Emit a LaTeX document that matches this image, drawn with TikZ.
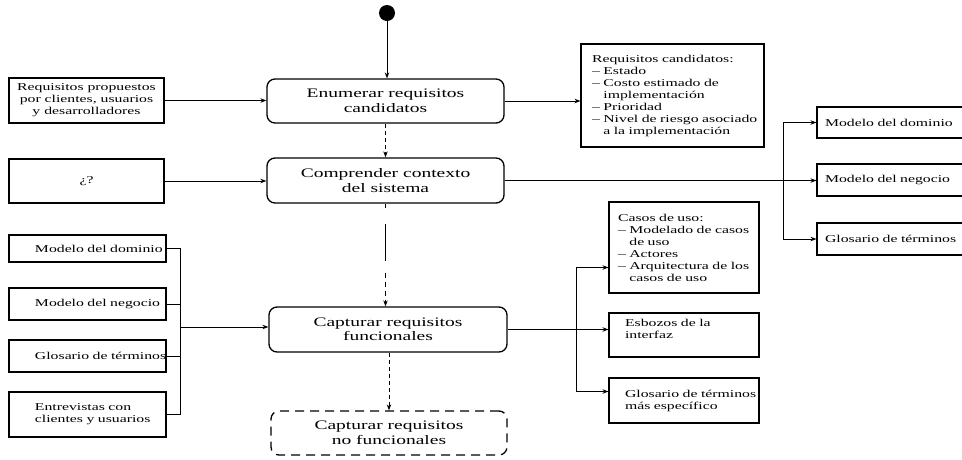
\documentclass[tikz,border=0pt]{standalone}
\usepackage{fontspec}
\setmainfont[FakeStretch=1.5]{Liberation Serif}
\usetikzlibrary{arrows.meta,calc}
\begin{document}
\begin{tikzpicture}[x=1pt,y=-1pt,
  act/.style={draw,rounded corners=8pt,line width=1.3pt,minimum width=237pt,
    minimum height=44pt,align=center,inner sep=0pt,
    font=\fontsize{13}{14.5}\selectfont},
  actdash/.style={act,dash pattern=on 9pt off 6pt},
  art/.style={draw,line width=1.1pt,inner sep=0pt,
    font=\fontsize{10.5}{12}\selectfont},
  flow/.style={line width=0.9pt,-{Stealth[length=6pt,width=4.5pt]}},
  link/.style={line width=0.9pt},
  ctrl/.style={flow,dash pattern=on 4pt off 3pt},
  startdot/.style={circle,fill=black,inner sep=0pt,minimum size=16pt}]
\useasboundingbox (0,0) rectangle (962,459);
\clip (0,0) rectangle (962,459);

% activity flow
\node[startdot] (start) at (387,13) {};
\node[act] (enum) at (385.5,101) {Enumerar requisitos\\candidatos};
\node[act,minimum height=45pt] (comp) at (385.5,180.5) {Comprender contexto\\del sistema};
\node[act,minimum width=238pt,minimum height=45pt] (capf) at (388,329.5) {Capturar requisitos\\funcionales};
\node[actdash,minimum width=236pt] (capn) at (389,433) {Capturar requisitos\\no funcionales};

% inputs on the left
\node[art,minimum width=155pt,minimum height=45pt,align=center] (req) at (86.5,100.5)
  {Requisitos propuestos\\por clientes, usuarios\\y desarrolladores};
\node[art,minimum width=155pt,minimum height=44pt,align=center] (q) at (86.5,181) {¿?};

\node[art,minimum width=157pt,minimum height=27pt,text width=151pt,align=left] (ldom) at (87.5,248.5)
  {\hspace*{23pt}\mbox{Modelo del dominio}};
\node[art,minimum width=157pt,minimum height=32pt,text width=151pt,align=left] (lneg) at (87.5,304)
  {\hspace*{23pt}\mbox{Modelo del negocio}};
\node[art,minimum width=157pt,minimum height=32pt,text width=151pt,align=left] (lglo) at (87.5,356)
  {\hspace*{23pt}\mbox{Glosario de términos}};
\node[art,minimum width=157pt,minimum height=45pt,text width=151pt,align=left] (lent) at (87.5,414.5)
  {\hspace*{23pt}Entrevistas con\\\hspace*{23pt}\mbox{clientes y usuarios}};

% results on the right
\node[art,minimum width=183pt,minimum height=103pt,text width=177pt,align=left] (cand) at (672.5,95.5)
  {\hspace*{8pt}Requisitos candidatos:\\
   \hspace*{8pt}– Estado\\
   \hspace*{8pt}– Costo estimado de\\
   \hspace*{8pt}\hphantom{– }implementación\\
   \hspace*{8pt}– Prioridad\\
   \hspace*{8pt}\mbox{– Nivel de riesgo asociado}\\
   \hspace*{8pt}\hphantom{– }a la implementación};

\node[art,minimum width=163pt,minimum height=31pt,text width=157pt,align=left] (rdom) at (898.5,122.5)
  {\hspace*{5pt}Modelo del dominio};
\node[art,minimum width=163pt,minimum height=32pt,text width=157pt,align=left] (rneg) at (898.5,180)
  {\hspace*{5pt}Modelo del negocio};
\node[art,minimum width=163pt,minimum height=32pt,text width=157pt,align=left] (rglo) at (898.5,239)
  {\hspace*{5pt}Glosario de términos};

\node[art,minimum width=150pt,minimum height=91pt,text width=144pt,align=left] (casos) at (684,247.5)
  {\hspace*{6pt}Casos de uso:\\
   \hspace*{6pt}\mbox{– Modelado de casos}\\
   \hspace*{6pt}\hphantom{– }de uso\\
   \hspace*{6pt}– Actores\\
   \hspace*{6pt}\mbox{– Arquitectura de los}\\
   \hspace*{6pt}\hphantom{– }casos de uso};
\node[art,minimum width=150pt,minimum height=44pt,text width=144pt,align=left] (esb) at (684,335)
  {\hspace*{13pt}Esbozos de la\\\hspace*{13pt}interfaz\\\mbox{}};
\node[art,minimum width=150pt,minimum height=45pt,text width=144pt,align=left] (gme) at (684,400.5)
  {\hspace*{13pt}\mbox{Glosario de términos}\\\hspace*{13pt}más específico};

% junction points
\coordinate (jr) at (783,180);
\coordinate (jl) at (180,327);
\coordinate (jc) at (576,329.5);

% connectors
\draw[flow] (start) -- (start |- enum.north);
\draw[flow] (req.east) -- (req.east -| enum.west);
\draw[flow] (enum.east) -- (enum.east -| cand.west);
\draw[ctrl] (enum.south) -- (comp.north);
\draw[flow] (q.east) -- (q.east -| comp.west);
\draw[flow] (comp.east) -- (comp.east -| rneg.west);
\draw[flow] (jr) |- (rdom.west);
\draw[flow] (jr) |- (rglo.west);
\draw[flow,dash pattern=on 4pt off 16pt on 37pt off 12pt on 5pt off 4pt on 5pt off 4pt on 5pt off 4pt on 5pt off 4pt]
  (comp.south) -- (comp.south |- capf.north);
\draw[ctrl] (capf.south -| capn.north) -- (capn.north);

\draw[link] (ldom.east) -| (jl);
\draw[link] (lneg.east) -| (jl);
\draw[link] (lglo.east) -| (jl);
\draw[link] (lent.east) -| (jl);
\draw[flow] (jl) -- (jl -| capf.west);

\draw[flow] (capf.east) -- (capf.east -| esb.west);
\draw[flow] (jc) |- ($(casos.west)+(0,20)$);
\draw[flow] (jc) |- ($(gme.west)+(0,-9)$);
\end{tikzpicture}
\end{document}
